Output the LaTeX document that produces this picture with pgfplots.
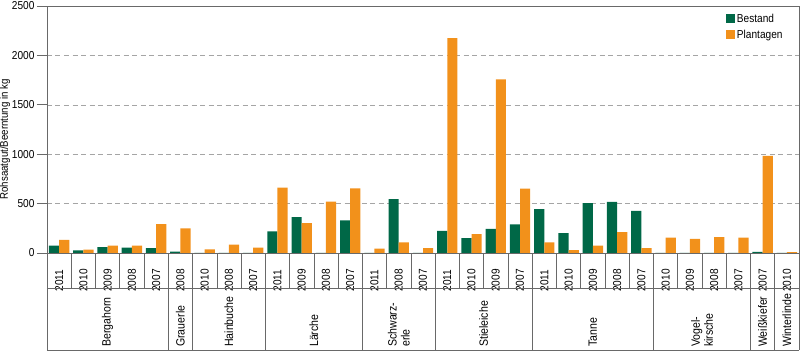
\documentclass[border=0pt]{standalone}
\usepackage{fontspec}
\setmainfont{Liberation Sans}[FakeStretch=0.88]
\usepackage{pgfplots}
\pgfplotsset{compat=1.18}
\definecolor{bgreen}{RGB}{0,104,71}
\definecolor{porange}{RGB}{242,145,27}
\definecolor{axgray}{RGB}{105,105,105}
\begin{document}
\begin{tikzpicture}
\begin{axis}[
  scale only axis, width=752pt, height=247pt,
  xmin=-0.5, xmax=30.5, ymin=0, ymax=2500,
  ybar=0pt, bar width=10.2pt,
  clip=false,
  axis line style={axgray, line width=0.6pt},
  ytick={0,500,...,2500},
  ytick align=outside, major tick length=10pt,
  y tick style={axgray, line width=0.6pt},
  /pgf/number format/assume math mode=true,
  /pgf/number format/1000 sep={},
  yticklabel style={font=\fontsize{11.5}{13}\selectfont, xshift=1pt},
  ymajorgrids, grid style={axgray!60, dash pattern=on 5pt off 3.5pt, line width=0.5pt},
  xtick={0,...,30},
  xticklabels={2011,2010,2009,2008,2007,2008,2010,2008,2007,2011,2009,2008,2007,2011,2008,2007,2011,2010,2009,2007,2011,2010,2009,2008,2007,2010,2009,2008,2007,2007,2010},
  x tick style={draw=none},
  xticklabel style={rotate=90, anchor=center, xshift=-17.5pt, font=\fontsize{11.5}{13}\selectfont},
  ylabel={Rohsaatgut/Beerntung in kg},
  ylabel style={at={(ticklabel cs:0.46)}, font=\fontsize{11}{12}\selectfont, yshift=-5pt},
  legend style={at={(rel axis cs:0.985,0.985)}, anchor=north east, draw=none, fill=none,
    font=\fontsize{11.5}{13}\selectfont, row sep=2pt, legend cell align=left},
  legend image code/.code={\fill[#1] (0pt,-4pt) rectangle (9pt,5pt);},
]
\addplot[fill=bgreen, draw=none] coordinates {
(0,74) (1,27) (2,60) (3,54) (4,50) (5,13) (6,0) (7,0) (8,0)
(9,218) (10,363) (11,0) (12,329) (13,0) (14,544) (15,0)
(16,225) (17,151) (18,245) (19,289)
(20,443) (21,202) (22,504) (23,517) (24,427)
(25,0) (26,0) (27,0) (28,0) (29,12) (30,0)};
\addplot[fill=porange, draw=none] coordinates {
(0,134) (1,34) (2,74) (3,74) (4,292) (5,249) (6,37) (7,84) (8,54)
(9,662) (10,302) (11,521) (12,655) (13,44) (14,108) (15,50)
(16,2175) (17,191) (18,1757) (19,652)
(20,108) (21,30) (22,74) (23,212) (24,50)
(25,155) (26,144) (27,161) (28,155) (29,984) (30,10)};
\legend{Bestand, Plantagen}
% category table below the axis
\pgfplotsinvokeforeach{0.5,1.5,2.5,3.5,5.5,6.5,7.5,9.5,10.5,11.5,13.5,14.5,16.5,17.5,18.5,20.5,21.5,22.5,23.5,25.5,26.5,27.5}{
  \draw[axgray, line width=0.6pt] (axis cs:#1,0) -- ([yshift=-35pt]axis cs:#1,0);
}
\pgfplotsinvokeforeach{-0.5,4.5,5.5,8.5,12.5,15.5,19.5,24.5,28.5,29.5,30.5}{
  \draw[axgray, line width=0.6pt] (axis cs:#1,0) -- ([yshift=-97pt]axis cs:#1,0);
}
\draw[axgray, line width=0.6pt] ([yshift=-35pt]axis cs:-0.5,0) -- ([yshift=-35pt]axis cs:30.5,0);
\draw[axgray, line width=0.6pt] ([yshift=-97pt]axis cs:-0.5,0) -- ([yshift=-97pt]axis cs:30.5,0);
\begin{scope}[every node/.style={rotate=90, anchor=west, inner sep=0pt, align=left, font=\fontsize{12}{13}\selectfont}]
\node at ([yshift=-94pt]axis cs:2,0) {Bergahorn};
\node at ([yshift=-94pt]axis cs:5,0) {Grauerle};
\node at ([yshift=-94pt]axis cs:7,0) {Hainbuche};
\node at ([yshift=-94pt]axis cs:10.5,0) {Lärche};
\node at ([yshift=-94pt]axis cs:14,0) {Schwarz-\\erle};
\node at ([yshift=-94pt]axis cs:17.5,0) {Stieleiche};
\node at ([yshift=-94pt]axis cs:22,0) {Tanne};
\node at ([yshift=-94pt]axis cs:26.5,0) {Vogel-\\kirsche};
\node at ([yshift=-94pt]axis cs:29,0) {Weißkiefer};
\node at ([yshift=-94pt]axis cs:30,0) {Winterlinde};
\end{scope}
\coordinate (ll) at (rel axis cs:0,0);
\coordinate (ur) at (rel axis cs:1,1);
\end{axis}
\pgfresetboundingbox
\path ([xshift=-47pt,yshift=-99pt]ll) rectangle ([xshift=1pt,yshift=6pt]ur);
\end{tikzpicture}
\end{document}
